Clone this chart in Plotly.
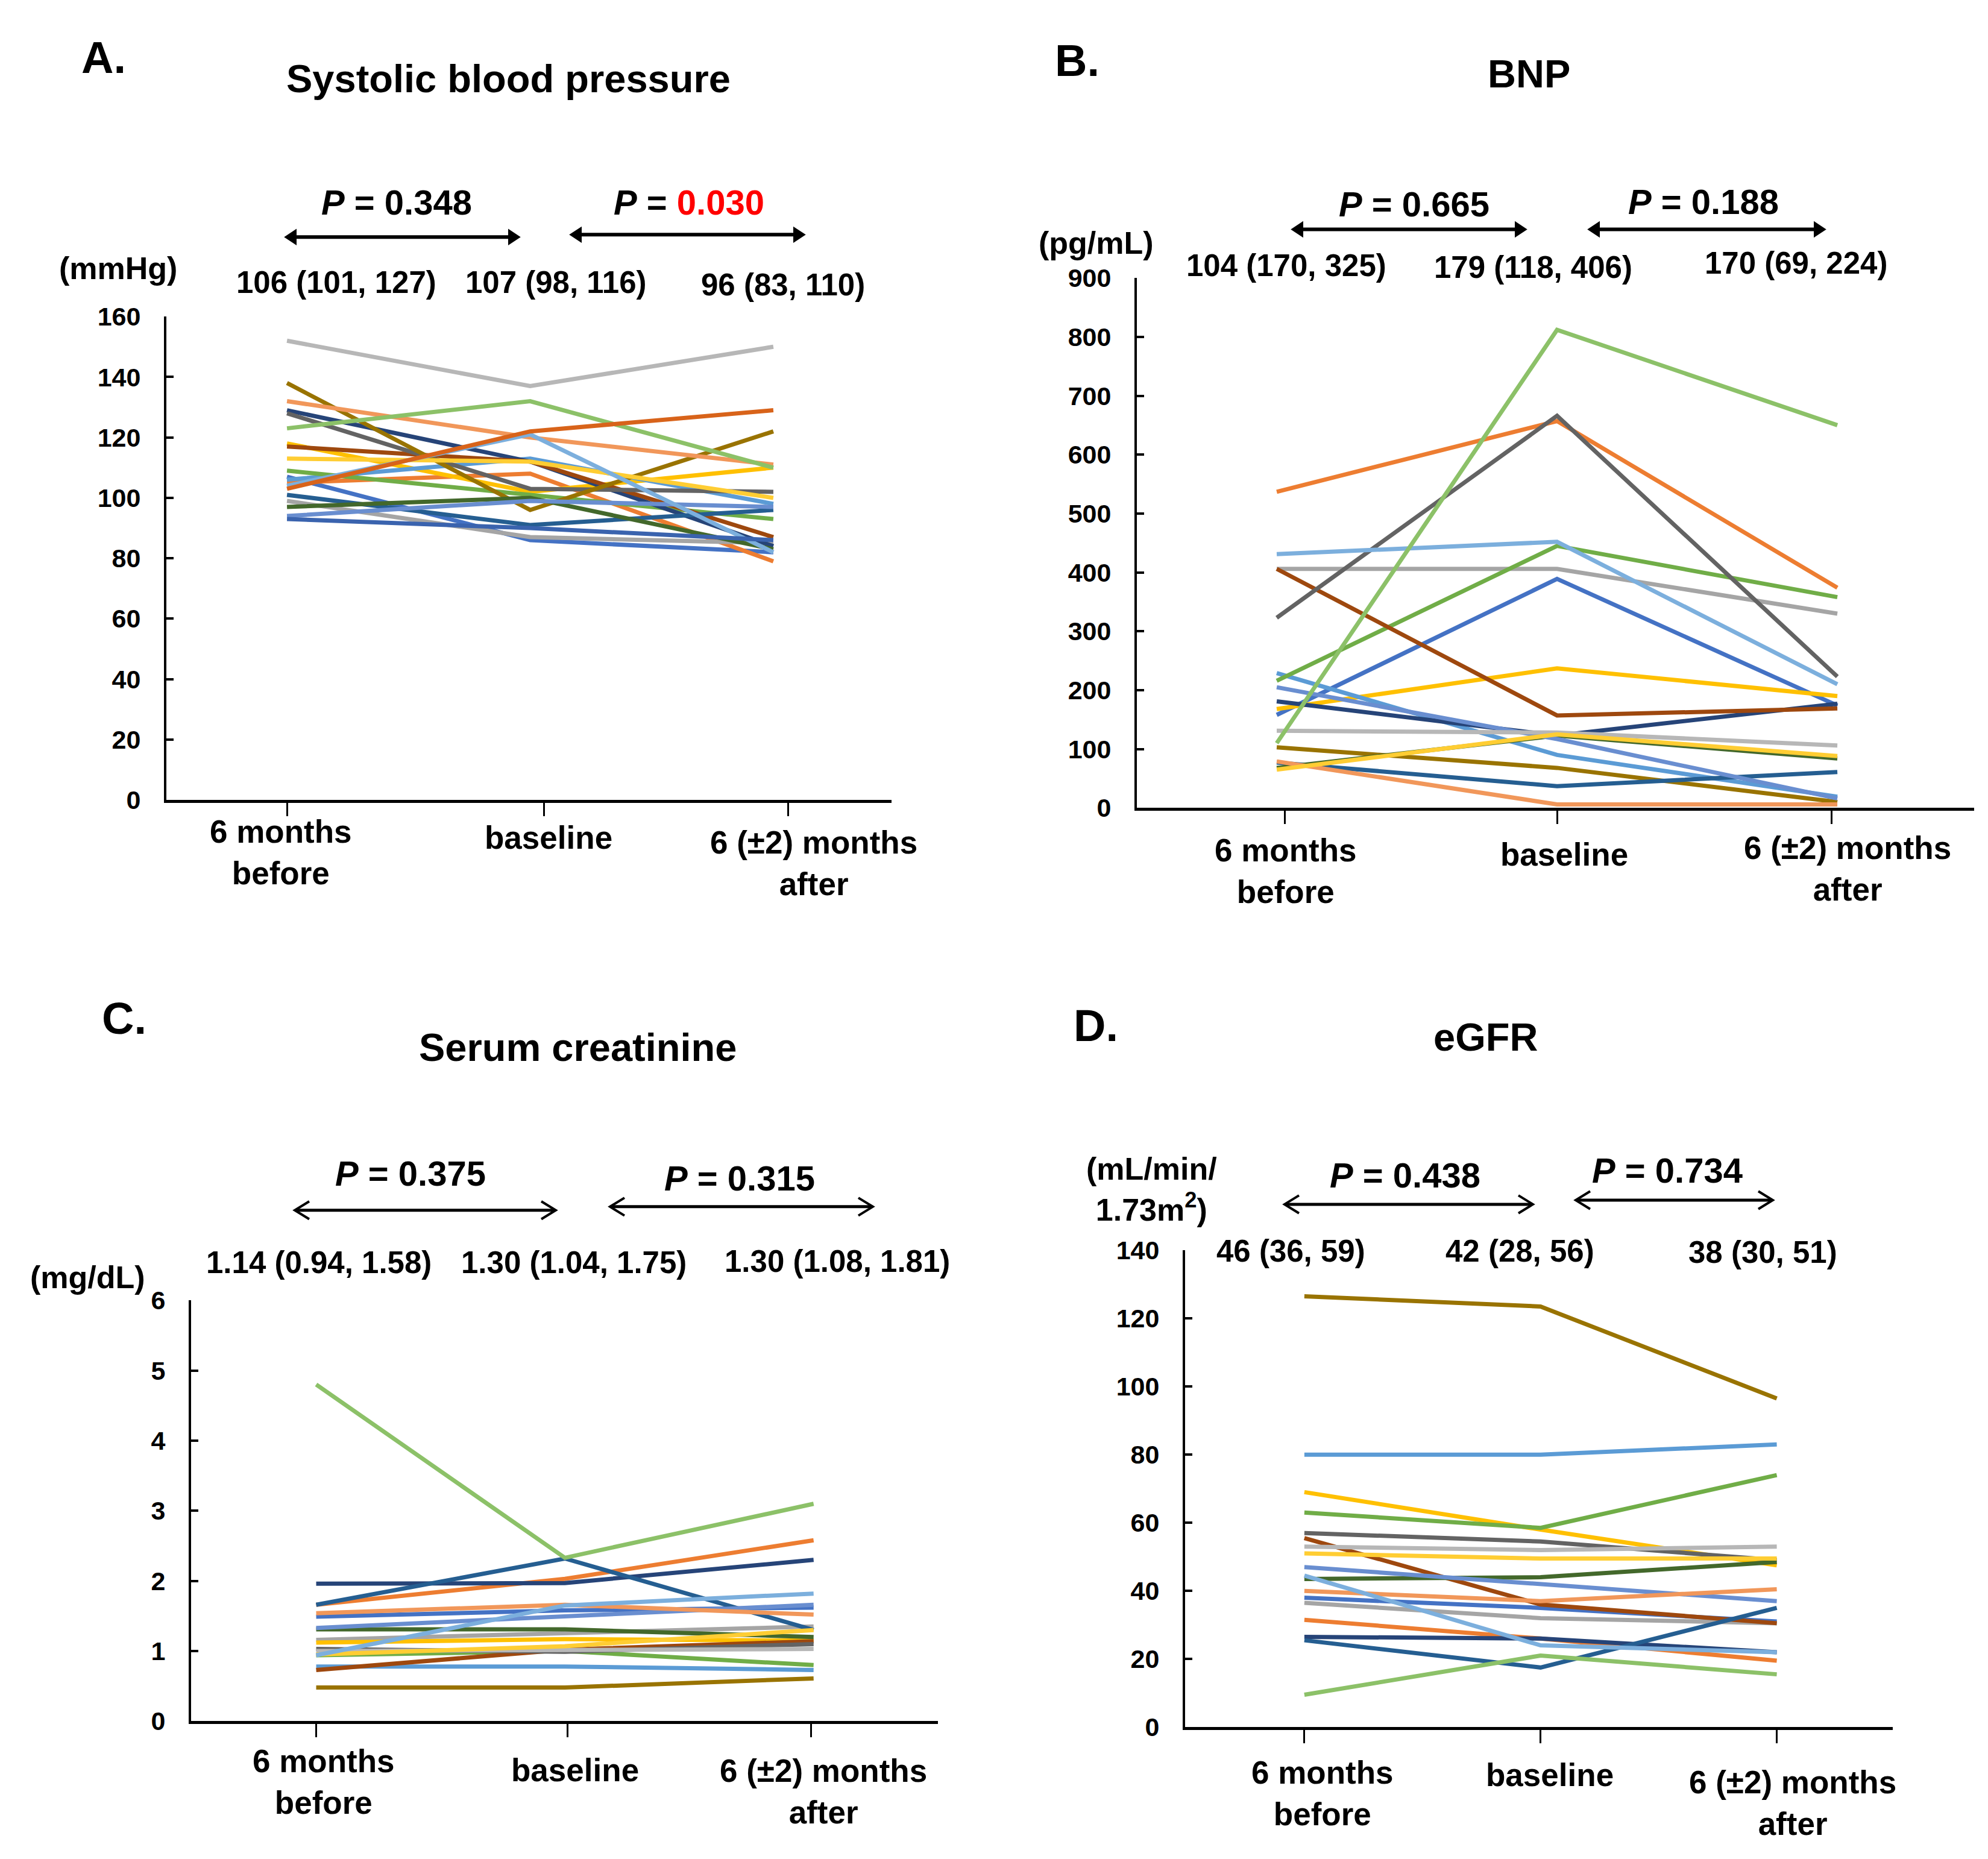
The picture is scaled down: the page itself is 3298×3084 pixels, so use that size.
import plotly.graph_objects as go

W, H = 3298, 3084

# ---------------- data ----------------
TIMEPOINTS = ["6 months<br>before", "baseline", "6 (±2) months<br>after"]
TIME_X = [0, 1, 2]

PALETTE = ["#4472C4", "#ED7D31", "#A5A5A5", "#FFC000", "#5B9BD5", "#70AD47",
           "#264478", "#9E480E", "#636363", "#997300", "#255E91", "#43682B",
           "#698ED0", "#F1975A", "#B7B7B7", "#FFCD33", "#7CAFDD", "#8CC168",
           "#3A63AE", "#D8631A"]

# Panel A: systolic blood pressure (mmHg)
SBP_BEFORE   = [107, 105, 99, 118, 106, 109, 129, 117, 128, 138, 101, 97, 94, 132, 152, 113, 104, 123, 93, 103]
SBP_BASELINE = [86, 108, 87, 102, 113, 101, 112, 112, 103, 96, 91, 100, 99, 120, 137, 112, 121, 132, 90, 122]
SBP_AFTER    = [82, 79, 85, 110, 98, 93, 84, 87, 102, 122, 96, 83, 97, 111, 150, 100, 82, 110, 86, 129]
SBP_TICKS = [0, 20, 40, 60, 80, 100, 120, 140, 160]
SBP_MEDIANS = ["106 (101, 127)", "107 (98, 116)", "96 (83, 110)"]
SBP_P = ["0.348", "0.030"]

# Panel B: BNP (pg/mL)
BNP_BEFORE   = [158, 537, 406, 168, 229, 216, 181, 406, 323, 103, 77, 68, 205, 79, 131, 65, 431, 110]
BNP_BASELINE = [389, 657, 406, 237, 90, 445, 123, 157, 666, 68, 37, 123, 117, 6, 128, 125, 452, 812]
BNP_AFTER    = [174, 374, 330, 190, 19, 358, 177, 169, 223, 10, 61, 84, 16, 6, 106, 88, 210, 650]
BNP_TICKS = [0, 100, 200, 300, 400, 500, 600, 700, 800, 900]
BNP_MEDIANS = ["104 (170, 325)", "179 (118, 406)", "170 (69, 224)"]
BNP_P = ["0.665", "0.188"]

# Panel C: serum creatinine (mg/dL)
CRE_BEFORE   = [1.49, 1.66, 1.16, 1.12, 0.78, 0.94, 1.96, 0.73, 1.03, 0.48, 1.66, 1.31, 1.33, 1.54, 1.00, 0.95, 0.94, 4.80]
CRE_BASELINE = [1.58, 2.03, 1.25, 1.17, 0.78, 1.00, 1.97, 1.02, 0.99, 0.48, 2.32, 1.31, 1.50, 1.66, 1.01, 1.07, 1.65, 2.33]
CRE_AFTER    = [1.62, 2.58, 1.35, 1.15, 0.73, 0.80, 2.30, 1.14, 1.10, 0.61, 1.30, 1.20, 1.66, 1.52, 1.03, 1.30, 1.82, 3.10]
CRE_TICKS = [0, 1, 2, 3, 4, 5, 6]
CRE_MEDIANS = ["1.14 (0.94, 1.58)", "1.30 (1.04, 1.75)", "1.30 (1.08, 1.81)"]
CRE_P = ["0.375", "0.315"]

# Panel D: eGFR (mL/min/1.73m2)
EGFR_BEFORE   = [38, 31.5, 36.5, 69, 80, 63, 26.5, 55.5, 57, 126.5, 25.5, 43.5, 47, 40, 53, 51, 44.5, 9.5]
EGFR_BASELINE = [35, 26, 32, 58, 80, 58.5, 26, 36, 54.5, 123.5, 17.5, 44, 42, 37, 52, 49.5, 24, 21]
EGFR_AFTER    = [31, 19.5, 30.5, 47.5, 83, 74, 22, 30.5, 49, 96.5, 35, 48.5, 37, 40.5, 53, 49.5, 22, 15.5]
EGFR_TICKS = [0, 20, 40, 60, 80, 100, 120, 140]
EGFR_MEDIANS = ["46 (36, 59)", "42 (28, 56)", "38 (30, 51)"]
EGFR_P = ["0.438", "0.734"]

# ---------------- layout helpers ----------------
def px(x):
    return x / W

def py(y):
    return 1 - y / H

FONT = "Liberation Sans, Arial, sans-serif"

PANELS = [
    dict(letter="A.", title="Systolic blood pressure", unit="(mmHg)",
         before=SBP_BEFORE, baseline=SBP_BASELINE, after=SBP_AFTER,
         ticks=SBP_TICKS, medians=SBP_MEDIANS, p=SBP_P, p_red=[False, True],
         xdom=(268, 1471), ydom=(1315.6, 501), xr=(-0.496, 2.486), xticks=[0, 1.058, 2.062],
         letter_pos=(164, 64), title_pos=(835, 100), unit_pos=(188, 420),
         p_pos=[(650, 308), (1135, 308)],
         arrows=[(465, 854, 367), (938, 1327, 363)], filled=True,
         med_pos=[(550, 443), (914, 443), (1291, 447)],
         cat_pos=[(458, 1404), (902, 1379), (1342, 1422)]),
    dict(letter="B.", title="BNP", unit="(pg/mL)",
         before=BNP_BEFORE, baseline=BNP_BASELINE, after=BNP_AFTER,
         ticks=BNP_TICKS, medians=BNP_MEDIANS, p=BNP_P, p_red=[False, False],
         xdom=(1878, 3267), ydom=(1329, 436), xr=(-0.499, 2.488), xticks=[0.03, 1, 1.98],
         letter_pos=(1779, 70), title_pos=(2528, 92), unit_pos=(1810, 377),
         p_pos=[(2338, 311), (2818, 307)],
         arrows=[(2135, 2524, 354), (2627, 3020, 354)], filled=True,
         med_pos=[(2126, 415), (2535, 418), (2971, 411)],
         cat_pos=[(2125, 1435), (2587, 1407), (3057, 1431)]),
    dict(letter="C.", title="Serum creatinine", unit="(mg/dL)",
         before=CRE_BEFORE, baseline=CRE_BASELINE, after=CRE_AFTER,
         ticks=CRE_TICKS, medians=CRE_MEDIANS, p=CRE_P, p_red=[False, False],
         xdom=(309, 1548), ydom=(2868, 2159), xr=(-0.503, 2.5), xticks=[0, 1.01, 1.99],
         letter_pos=(198, 1684), title_pos=(951, 1732), unit_pos=(137, 2120),
         p_pos=[(673, 1945), (1219, 1953)],
         arrows=[(481, 914, 2007), (1004, 1440, 2001)], filled=False,
         med_pos=[(521, 2095), (944, 2095), (1381, 2093)],
         cat_pos=[(529, 2970), (946, 2950), (1358, 2986)]),
    dict(letter="D.", title="eGFR", unit="(mL/min/<br>1.73m<sup>2</sup>)",
         before=EGFR_BEFORE, baseline=EGFR_BASELINE, after=EGFR_AFTER,
         ticks=EGFR_TICKS, medians=EGFR_MEDIANS, p=EGFR_P, p_red=[False, False],
         xdom=(1958, 3132), ydom=(2878, 2074.5), xr=(-0.505, 2.491), xticks=[0, 1, 2],
         letter_pos=(1810, 1696), title_pos=(2456, 1715), unit_pos=(1903, 1972),
         p_pos=[(2323, 1948), (2758, 1940)],
         arrows=[(2123, 2535, 1997), (2606, 2933, 1990)], filled=False,
         med_pos=[(2133, 2076), (2513, 2076), (2916, 2078)],
         cat_pos=[(2186, 2990), (2563, 2959), (2966, 3006)]),
]

fig = go.Figure()
annotations = []
shapes = []
layout = dict(width=W, height=H, margin=dict(l=0, r=0, t=0, b=0),
              paper_bgcolor="white", plot_bgcolor="white",
              font=dict(family=FONT, color="black"), showlegend=False)


def add_text(text, pos, size, bold=True):
    annotations.append(dict(
        text=text, x=px(pos[0]), y=py(pos[1]), xref="paper", yref="paper",
        xanchor="center", yanchor="middle", showarrow=False, align="center",
        font=dict(family=FONT, size=size, color="black",
                  weight="bold" if bold else "normal")))


def add_arrow(x1, x2, y, filled):
    hl, hh = (18, 12) if filled else (24, 15)
    sw = 6 if filled else 5
    shapes.append(dict(type="line", xref="paper", yref="paper",
                       x0=px(x1 + (hl * 0.6 if filled else 2)), x1=px(x2 - (hl * 0.6 if filled else 2)),
                       y0=py(y), y1=py(y), line=dict(color="black", width=sw)))
    if filled:
        for tip, back in ((x1, x1 + hl), (x2, x2 - hl)):
            path = (f"M {px(tip)},{py(y)} L {px(back)},{py(y - hh)} "
                    f"L {px(back)},{py(y + hh)} Z")
            shapes.append(dict(type="path", xref="paper", yref="paper", path=path,
                               fillcolor="black", line=dict(color="black", width=2)))
    else:
        for tip, back in ((x1, x1 + hl), (x2, x2 - hl)):
            path = (f"M {px(back)},{py(y - hh)} L {px(tip)},{py(y)} "
                    f"L {px(back)},{py(y + hh)}")
            shapes.append(dict(type="path", xref="paper", yref="paper", path=path,
                               line=dict(color="black", width=4)))


for i, pnl in enumerate(PANELS, start=1):
    xa, ya = f"x{i}", f"y{i}"
    for j in range(len(pnl["before"])):
        fig.add_trace(go.Scatter(
            x=TIME_X, y=[pnl["before"][j], pnl["baseline"][j], pnl["after"][j]],
            mode="lines", line=dict(color=PALETTE[j], width=7),
            xaxis=xa, yaxis=ya, showlegend=False, hoverinfo="skip"))

    layout[f"xaxis{i}"] = dict(
        domain=[px(pnl["xdom"][0]), px(pnl["xdom"][1])], range=list(pnl["xr"]),
        anchor=ya, showline=True, linewidth=5, linecolor="black", mirror=False,
        ticks="outside", ticklen=22, tickwidth=3, tickcolor="black",
        tickvals=pnl["xticks"], showticklabels=False,
        showgrid=False, zeroline=False, fixedrange=True)
    layout[f"yaxis{i}"] = dict(
        domain=[py(pnl["ydom"][0]), py(pnl["ydom"][1])],
        range=[pnl["ticks"][0], pnl["ticks"][-1]],
        anchor=xa, showline=True, linewidth=4, linecolor="black",
        ticks="inside", ticklen=12, tickwidth=4, tickcolor="black",
        tickvals=pnl["ticks"], ticktext=[str(t) for t in pnl["ticks"]],
        tickfont=dict(family=FONT, size=43, color="black", weight="bold"),
        ticklabelstandoff=30,
        showgrid=False, zeroline=False, fixedrange=True)

    add_text(pnl["letter"], pnl["letter_pos"], 74)
    add_text(pnl["title"], pnl["title_pos"], 65)
    add_text(pnl["unit"], pnl["unit_pos"], 52)
    for k in range(2):
        val = pnl["p"][k]
        if pnl["p_red"][k]:
            val = f"<span style='color:#FF0000'>{val}</span>"
        add_text(f"<i>P</i> = {val}", pnl["p_pos"][k], 58)
        add_arrow(*pnl["arrows"][k], pnl["filled"])
    for k in range(3):
        add_text(pnl["medians"][k], pnl["med_pos"][k], 51)
        add_text(TIMEPOINTS[k], pnl["cat_pos"][k], 53)

layout["annotations"] = annotations
layout["shapes"] = shapes
fig.update_layout(**layout)
fig.write_html("out.html")
